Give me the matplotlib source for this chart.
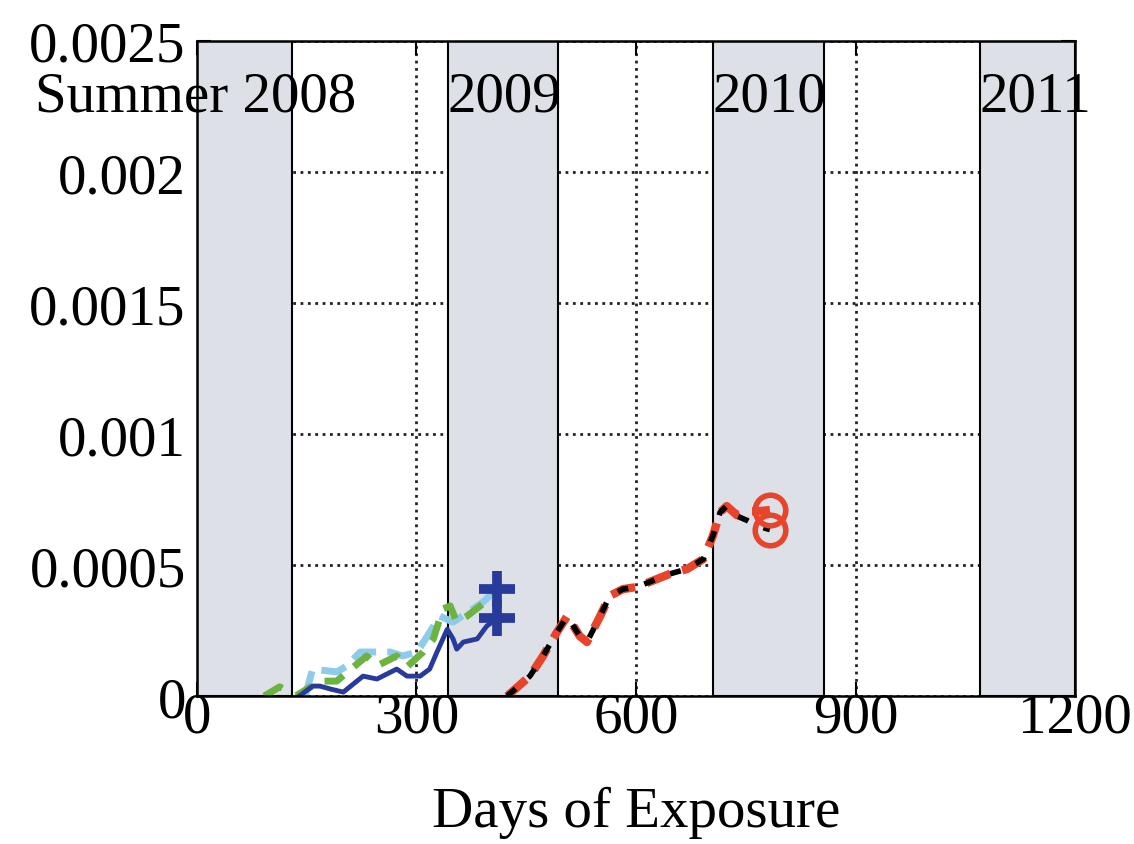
import matplotlib.pyplot as plt
import numpy as np

plt.rcParams['font.family'] = ['Liberation Serif', 'DejaVu Serif']

# seasons (grey bands), in days of exposure
band_start = [0, 343, 705, 1070]
band_end = [130, 493, 857, 1200]
season_labels = ['Summer 2008', '2009', '2010', '2011']
label_x = [-222, 343, 705, 1070]

# first exposure batch
blue_x = [140, 158, 168, 182, 200, 227, 246, 273, 287, 305, 318, 328, 342, 350, 355, 364, 383, 396, 410]
blue_y = [0, 0.000038, 0.000038, 0.000027, 0.000015, 0.000076, 0.000065, 0.000103, 0.000076,
          0.000076, 0.000103, 0.000168, 0.000255, 0.000218, 0.000179, 0.000206, 0.000218, 0.000267, 0.000296]

green_x = [92, 113, 135, 168, 191, 232, 246, 273, 287, 309, 323, 336, 346, 355, 369, 387, 396, 410]
green_y = [0, 0.000035, 0.0, 0.000057, 0.000057, 0.000153, 0.000115, 0.000153, 0.000111,
           0.000168, 0.000218, 0.000332, 0.000344, 0.000282, 0.000305, 0.000344, 0.000363, 0.000408]

cyan_x = [148, 158, 191, 205, 223, 264, 281, 301, 332, 350, 391, 410]
cyan_y = [0, 0.000103, 0.000092, 0.000115, 0.000168, 0.000168, 0.000153, 0.000168, 0.000305,
          0.000282, 0.000359, 0.000408]

# second exposure batch
red_x = [424, 455, 473, 492, 506, 523, 533, 551, 564, 582, 601, 629, 646, 670, 692, 705, 715, 724, 738, 752, 765, 783]
red_y = [0, 0.000076, 0.000153, 0.000244, 0.000305, 0.000229, 0.000206, 0.000305, 0.000382, 0.000408,
         0.000416, 0.000447, 0.000466, 0.000485, 0.000523, 0.000611, 0.000702, 0.000725, 0.000690,
         0.000705, 0.000705, 0.000710]
black_y = [0, 0.000076, 0.000153, 0.000244, 0.000305, 0.000229, 0.000206, 0.000305, 0.000382, 0.000408,
           0.000416, 0.000447, 0.000466, 0.000485, 0.000523, 0.000611, 0.000702, 0.000725, 0.000687,
           0.000670, 0.000650, 0.000635]

fig = plt.figure(figsize=(11.34, 8.45), dpi=100)
ax = fig.add_axes([0.1737, 0.1751, 0.7743, 0.7752])

ax.set_axisbelow(True)
ax.grid(True, linestyle=':', color='#222222', linewidth=2)

for s, e in zip(band_start, band_end):
    ax.axvspan(s, e, facecolor='#dde1e7', edgecolor='black', linewidth=1.5, zorder=1)

ax.plot(cyan_x, cyan_y, color='#8ecbea', linestyle='--', linewidth=5, zorder=3)
ax.plot(green_x, green_y, color='#6cb33f', linestyle='--', dashes=(3, 2), linewidth=5, zorder=3)
ax.plot(blue_x, blue_y, color='#283b9b', linewidth=3.5, zorder=4)
ax.plot([blue_x[-1], blue_x[-1]], [blue_y[-1], green_y[-1]], linestyle='none',
        marker='+', markersize=26, markeredgewidth=7, color='#283b9b', zorder=5)

ax.plot(red_x, red_y, color='#e8432b', linestyle='--', dashes=(3, 1.5), linewidth=6, zorder=3)
ax.plot(red_x, black_y, color='black', linestyle='--', dashes=(2, 3), linewidth=4, zorder=4)
ax.plot([red_x[-1], red_x[-1]], [red_y[-1], black_y[-1]], linestyle='none', marker='o',
        markersize=22, markerfacecolor='none', markeredgecolor='#e8432b', markeredgewidth=4, zorder=5)

for lx, lab in zip(label_x, season_labels):
    ax.text(lx, 0.00229, lab, fontsize=41, va='center', ha='left', zorder=6)

ax.set_xlim(0, 1200)
ax.set_ylim(0, 0.0025)
ax.set_xticks([0, 300, 600, 900, 1200])
ax.set_yticks([0, 0.0005, 0.001, 0.0015, 0.002, 0.0025])
ax.set_yticklabels(['0', '0.0005', '0.001', '0.0015', '0.002', '0.0025'])
ax.tick_params(direction='in', top=True, right=True, length=10, width=1.5, labelsize=41, pad=8)
ax.tick_params(axis='x', pad=-3)
for sp in ax.spines.values():
    sp.set_linewidth(1.8)
    sp.set_zorder(7)
ax.set_xlabel('Days of Exposure', fontsize=41, labelpad=30)

fig.savefig('out.png', dpi=100)
